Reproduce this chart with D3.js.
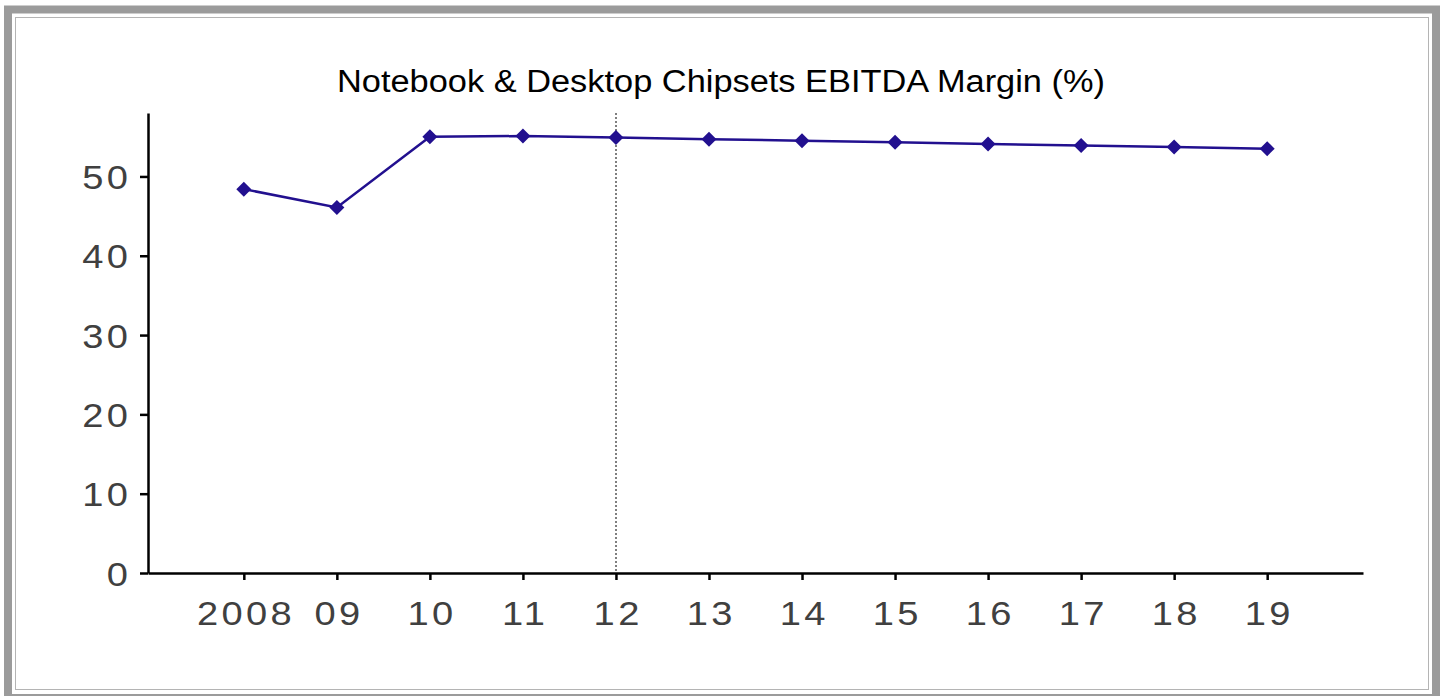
<!DOCTYPE html>
<html>
<head>
<meta charset="utf-8">
<script src="https://cdn.jsdelivr.net/npm/d3@7"></script>
<style>
  html, body { margin: 0; padding: 0; background: #fff; }
  svg { display: block; font-family: "Liberation Sans", Arial, sans-serif; }
</style>
</head>
<body>
<svg id="chart" width="1443" height="696"></svg>
<script>
// Notebook & desktop chipsets EBITDA margin, actuals then forecasts
const years = ["2008", "09", "10", "11", "12", "13", "14", "15", "16", "17", "18", "19"];
const margin = [48.4, 46.1, 55.0, 55.1, 54.9, 54.7, 54.5, 54.3, 54.1, 53.9, 53.7, 53.5];
const yTicks = [0, 10, 20, 30, 40, 50];
const forecastStart = "12";
const title = "Notebook & Desktop Chipsets EBITDA Margin (%)";

const svg = d3.select("#chart");

// frame
svg.append("rect")
  .attr("x", 8).attr("y", 9.5).attr("width", 1428).attr("height", 688.5)
  .attr("fill", "none").attr("stroke", "#9b9b9b").attr("stroke-width", 8);
svg.append("rect")
  .attr("x", 15.5).attr("y", 17.5).attr("width", 1413).attr("height", 672)
  .attr("fill", "#fff").attr("stroke", "#b4b4b4").attr("stroke-width", 1);

const x = d3.scalePoint().domain(years).range([148, 1363]).padding(1.03);
const y = d3.scaleLinear().domain([0, 58]).range([573, 113]);

// title
svg.append("text")
  .attr("x", 721).attr("y", 92)
  .attr("text-anchor", "middle")
  .attr("font-size", 31)
  .attr("fill", "#000")
  .attr("textLength", 768)
  .attr("lengthAdjust", "spacingAndGlyphs")
  .text(title);

// forecast divider
const xf = Math.round(x(forecastStart));
svg.append("line")
  .attr("x1", xf).attr("x2", xf)
  .attr("y1", y(58)).attr("y2", y(0))
  .attr("stroke", "#7f7f7f").attr("stroke-width", 2)
  .attr("stroke-dasharray", "2,2");

// axes
const xAxis = svg.append("g")
  .attr("transform", `translate(0,${y(0)})`)
  .call(d3.axisBottom(x).tickSize(7).tickSizeOuter(0));
const yAxis = svg.append("g")
  .attr("transform", `translate(148,0)`)
  .call(d3.axisLeft(y).tickValues(yTicks).tickSize(8).tickSizeOuter(0));

[xAxis, yAxis].forEach(g => {
  g.select(".domain").attr("stroke", "#000").attr("stroke-width", 2.5);
  g.selectAll(".tick line").attr("stroke", "#000").attr("stroke-width", 2.5);
  g.selectAll(".tick text")
    .attr("font-size", 34)
    .attr("fill", "#404040")
    .attr("letter-spacing", 3)
    .attr("font-family", "\"Liberation Sans\", Arial, sans-serif");
});

xAxis.selectAll(".tick text")
  .attr("x", 1.5).attr("y", 52).attr("dy", 0)
  .attr("transform", "scale(1.12,1)");
yAxis.selectAll(".tick text")
  .attr("x", -15).attr("dy", 0).attr("y", 12)
  .attr("transform", "scale(1.12,1)");

// series line and markers
const pts = years.map((yr, i) => ({ yr, v: margin[i] }));
svg.append("path")
  .datum(pts)
  .attr("fill", "none")
  .attr("stroke", "#22108f")
  .attr("stroke-width", 2.5)
  .attr("d", d3.line().x(d => x(d.yr)).y(d => y(d.v)));

svg.append("g").selectAll("path")
  .data(pts)
  .join("path")
  .attr("transform", d => `translate(${x(d.yr)},${y(d.v)})`)
  .attr("d", "M0,-7.5L7.5,0L0,7.5L-7.5,0Z")
  .attr("fill", "#22108f");
</script>
</body>
</html>
